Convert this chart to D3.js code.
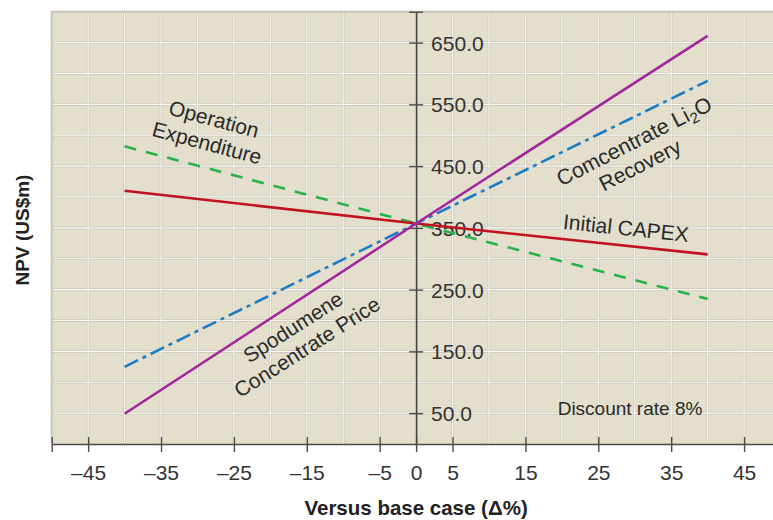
<!DOCTYPE html>
<html>
<head>
<meta charset="utf-8">
<script src="https://cdn.jsdelivr.net/npm/d3@7"></script>
<style>
  body { margin: 0; background: #fff; }
  svg { display: block; }
  text { font-family: "Liberation Sans", Arial, Helvetica, sans-serif; }
</style>
</head>
<body>
<svg id="chart" width="773" height="520"></svg>
<script>
// Sensitivity of NPV (US$m) to changes versus the base case (%)
const changePct   = [-40, 0, 40];
const priceNPV    = [49, 357, 661];   // Spodumene concentrate price
const recoveryNPV = [125, 357, 588];  // Concentrate Li2O recovery
const capexNPV    = [410, 357, 307];  // Initial CAPEX
const opexNPV     = [482, 357, 235];  // Operation expenditure
const xTickValues = [-45, -35, -25, -15, -5, 0, 5, 15, 25, 35, 45];
const yTickValues = [50, 150, 250, 350, 450, 550, 650];

const svg = d3.select("#chart");
const x = d3.scaleLinear().domain([-50, 50]).range([51.7, 780.5]);
const y = d3.scaleLinear().domain([0, 700]).range([444, 11.7]);

// plot panel
svg.append("rect")
  .attr("x", x(-50)).attr("y", y(700))
  .attr("width", x(50) - x(-50)).attr("height", y(0) - y(700))
  .attr("fill", "#e3dfcc");

// grid: soft grey edge with a white core
const grid = svg.append("g");
const gxVals = d3.range(-45, 51, 5);
const gyVals = d3.range(50, 700, 50);
[["#cac7bb", 2.6], ["#f7f6f1", 1.2]].forEach(([col, w]) => {
  grid.selectAll(null).data(gxVals).enter().append("line")
    .attr("x1", d => x(d)).attr("x2", d => x(d))
    .attr("y1", y(700)).attr("y2", y(0))
    .attr("stroke", col).attr("stroke-width", w);
  grid.selectAll(null).data(gyVals).enter().append("line")
    .attr("x1", x(-50)).attr("x2", x(50))
    .attr("y1", d => y(d)).attr("y2", d => y(d))
    .attr("stroke", col).attr("stroke-width", w);
});
// panel border (top and left)
svg.append("path")
  .attr("d", `M${x(-50)},${y(0)}V${y(700)}H${x(50)}`)
  .attr("fill", "none").attr("stroke", "#c4c2bb").attr("stroke-width", 1.8);

const axisColor = "#4a4a4a";
const tickColor = "#333";

// x axis
const xAxis = svg.append("g")
  .attr("transform", `translate(0,${y(0)})`)
  .call(d3.axisBottom(x)
    .tickValues([-50, ...xTickValues])
    .tickSizeInner(8).tickSizeOuter(0)
    .tickFormat(d => d === -50 ? "" : (d < 0 ? "\u2013" + Math.abs(d) : String(d))));
xAxis.select(".domain").attr("stroke", axisColor).attr("stroke-width", 1.6);
xAxis.selectAll(".tick line").attr("y1", -7).attr("y2", 8)
  .attr("stroke", axisColor).attr("stroke-width", 1.4);
xAxis.selectAll(".tick text")
  .attr("y", 36).attr("dy", null)
  .attr("fill", tickColor).style("font-size", "21px");

// y axis at zero change
const yAxis = svg.append("g")
  .attr("transform", `translate(${x(0)},0)`)
  .call(d3.axisRight(y)
    .tickValues([...yTickValues, 700])
    .tickSizeInner(7).tickSizeOuter(0)
    .tickFormat(d => d === 700 ? "" : d3.format(".1f")(d)));
yAxis.select(".domain").attr("stroke", axisColor).attr("stroke-width", 1.6);
yAxis.selectAll(".tick line").attr("x1", -7).attr("x2", 7)
  .attr("stroke", axisColor).attr("stroke-width", 1.4);
yAxis.selectAll(".tick text")
  .attr("x", 15).attr("dy", "0.36em")
  .attr("fill", tickColor).style("font-size", "21px");

// axis titles
svg.append("text")
  .attr("x", x(0)).attr("y", 515)
  .attr("text-anchor", "middle")
  .style("font-size", "20.5px").style("font-weight", "bold").attr("fill", "#222")
  .text("Versus base case (\u0394%)");
svg.append("text")
  .attr("transform", `translate(29,${230}) rotate(-90)`)
  .attr("text-anchor", "middle")
  .style("font-size", "19px").style("font-weight", "bold").attr("fill", "#222")
  .text("NPV (US$m)");

// sensitivity lines
const series = [
  { values: opexNPV,     color: "#27b24a", dash: "12,10" },
  { values: capexNPV,    color: "#c2111f", dash: null },
  { values: recoveryNPV, color: "#1a7dc6", dash: "15,5,4,5" },
  { values: priceNPV,    color: "#a3279c", dash: null }
];
const line = d3.line().x(d => x(d[0])).y(d => y(d[1]));
series.forEach(s => {
  svg.append("path")
    .datum(changePct.map((c, i) => [c, s.values[i]]))
    .attr("d", line)
    .attr("fill", "none")
    .attr("stroke", s.color)
    .attr("stroke-width", 2.6)
    .attr("stroke-dasharray", s.dash);
});

// series labels
const labelColor = "#2a2a2a";
function label(cx, cy, angle, size, build) {
  const t = svg.append("text")
    .attr("transform", `translate(${cx},${cy}) rotate(${angle})`)
    .attr("text-anchor", "middle")
    .attr("dy", "0.35em")
    .attr("fill", labelColor)
    .style("font-size", size + "px");
  build(t);
}
label(214, 119, 15, 21, t => t.text("Operation"));
label(207, 143, 15, 21, t => t.text("Expenditure"));
label(634, 141, -27, 21.5, t => {
  t.append("tspan").text("Comcentrate Li");
  t.append("tspan").attr("dy", "0.3em").style("font-size", "15px").text("2");
  t.append("tspan").attr("dy", "-0.2em").text("O");
});
label(640, 165, -27, 21, t => t.text("Recovery"));
label(626, 228, 6, 21, t => t.text("Initial CAPEX"));
label(293, 327, -32.5, 21, t => t.text("Spodumene"));
label(307, 347, -32.5, 21, t => t.text("Concentrate Price"));

svg.append("text")
  .attr("x", 630).attr("y", 415)
  .attr("text-anchor", "middle")
  .attr("fill", labelColor)
  .style("font-size", "19px")
  .text("Discount rate 8%");
</script>
</body>
</html>
